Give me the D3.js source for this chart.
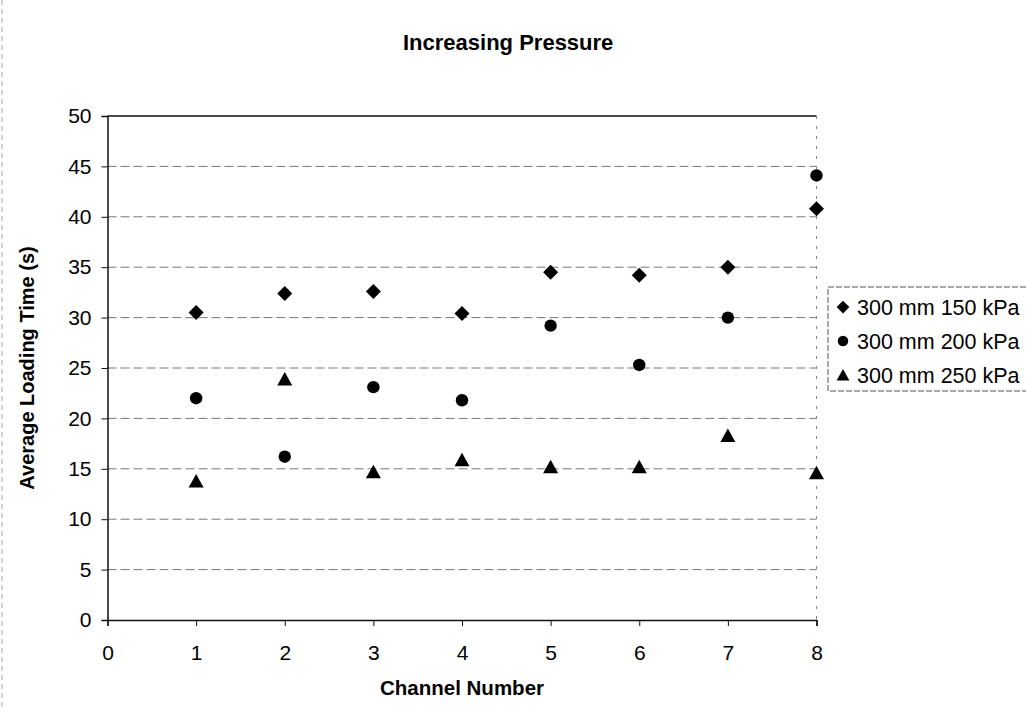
<!DOCTYPE html>
<html>
<head>
<meta charset="utf-8">
<script src="https://cdn.jsdelivr.net/npm/d3@7"></script>
<style>
  body { margin: 0; background: #fff; }
  svg { display: block; font-family: "Liberation Sans", Arial, sans-serif; }
</style>
</head>
<body>
<svg id="chart" width="1026" height="711"></svg>
<script>
// データ
const channels = [1, 2, 3, 4, 5, 6, 7, 8];
const kpa150 = [30.5, 32.4, 32.6, 30.4, 34.5, 34.2, 35.0, 40.8];
const kpa200 = [22.0, 16.2, 23.1, 21.8, 29.2, 25.3, 30.0, 44.1];
const kpa250 = [13.8, 23.9, 14.7, 15.9, 15.2, 15.2, 18.3, 14.6];
const seriesNames = ['300 mm 150 kPa', '300 mm 200 kPa', '300 mm 250 kPa'];
const xTicks = [0, 1, 2, 3, 4, 5, 6, 7, 8];
const yTicks = [0, 5, 10, 15, 20, 25, 30, 35, 40, 45, 50];

const svg = d3.select('#chart');
const plot = { left: 107.5, right: 816.5, top: 116, bottom: 620 };

const x = d3.scaleLinear().domain([0, 8]).range([plot.left, plot.right]);
const y = d3.scaleLinear().domain([0, 50]).range([plot.bottom, plot.top]);

// マーカー形状
const shapes = {
  diamond: 'M0,-7.5L7.5,0L0,7.5L-7.5,0Z',
  circle: d3.symbol().type(d3.symbolCircle).size(Math.PI * 6.2 * 6.2)(),
  triangle: 'M0,-7L7.5,6.5L-7.5,6.5Z'
};
const series = [
  { name: seriesNames[0], values: kpa150, shape: shapes.diamond },
  { name: seriesNames[1], values: kpa200, shape: shapes.circle },
  { name: seriesNames[2], values: kpa250, shape: shapes.triangle }
];

// チャートエリア左端の枠(スキャンの名残)
svg.append('line')
  .attr('x1', 2).attr('x2', 2).attr('y1', 0).attr('y2', 711)
  .attr('stroke', '#aaa').attr('stroke-dasharray', '5,4');

// グリッド線
svg.append('g')
  .selectAll('line')
  .data(yTicks.filter(d => d > 0 && d < 50))
  .join('line')
  .attr('x1', plot.left).attr('x2', plot.right)
  .attr('y1', d => y(d)).attr('y2', d => y(d))
  .attr('stroke', '#777')
  .attr('stroke-dasharray', '9,4');

// プロットエリアの枠
svg.append('line')
  .attr('x1', plot.left).attr('x2', plot.right)
  .attr('y1', plot.top).attr('y2', plot.top)
  .attr('stroke', '#111').attr('stroke-width', 1.5);
svg.append('line')
  .attr('x1', plot.right).attr('x2', plot.right)
  .attr('y1', plot.top).attr('y2', plot.bottom)
  .attr('stroke', '#888').attr('stroke-dasharray', '3,7');

// 軸
const xAxis = svg.append('g')
  .attr('transform', `translate(0,${plot.bottom})`)
  .call(d3.axisBottom(x).tickValues(xTicks).tickSize(6).tickPadding(19));
const yAxis = svg.append('g')
  .attr('transform', `translate(${plot.left},0)`)
  .call(d3.axisLeft(y).tickValues(yTicks).tickSize(6).tickPadding(10));

[xAxis, yAxis].forEach(ax => {
  ax.select('.domain').attr('stroke', '#111').attr('stroke-width', 1.5);
  ax.selectAll('.tick line').attr('stroke', '#111');
  ax.selectAll('.tick text')
    .attr('fill', '#000')
    .attr('font-size', 21)
    .attr('font-family', '"Liberation Sans", Arial, sans-serif');
});

// 点
series.forEach(s => {
  svg.append('g')
    .selectAll('path')
    .data(channels)
    .join('path')
    .attr('d', s.shape)
    .attr('transform', (c, i) => `translate(${x(c)},${y(s.values[i])})`)
    .attr('fill', '#000');
});

// タイトル類
svg.append('text')
  .attr('x', 403).attr('y', 50)
  .attr('font-size', 22).attr('font-weight', 'bold')
  .text('Increasing Pressure');

svg.append('text')
  .attr('x', (plot.left + plot.right) / 2).attr('y', 695)
  .attr('text-anchor', 'middle')
  .attr('font-size', 20.5).attr('font-weight', 'bold')
  .text('Channel Number');

svg.append('text')
  .attr('transform', `translate(34,${(plot.top + plot.bottom) / 2}) rotate(-90)`)
  .attr('text-anchor', 'middle')
  .attr('font-size', 20).attr('font-weight', 'bold')
  .text('Average Loading Time (s)');

// 凡例
const legend = svg.append('g');
legend.append('rect')
  .attr('x', 828).attr('y', 287).attr('width', 220).attr('height', 104)
  .attr('fill', '#fff').attr('stroke', '#555').attr('stroke-dasharray', '6,2');
series.forEach((s, i) => {
  const ly = 307 + i * 34;
  legend.append('path')
    .attr('d', s.shape)
    .attr('transform', `translate(843,${ly}) scale(0.85)`)
    .attr('fill', '#000');
  legend.append('text')
    .attr('x', 857).attr('y', ly + 7.5)
    .attr('font-size', 21.5)
    .text(s.name);
});
</script>
</body>
</html>
